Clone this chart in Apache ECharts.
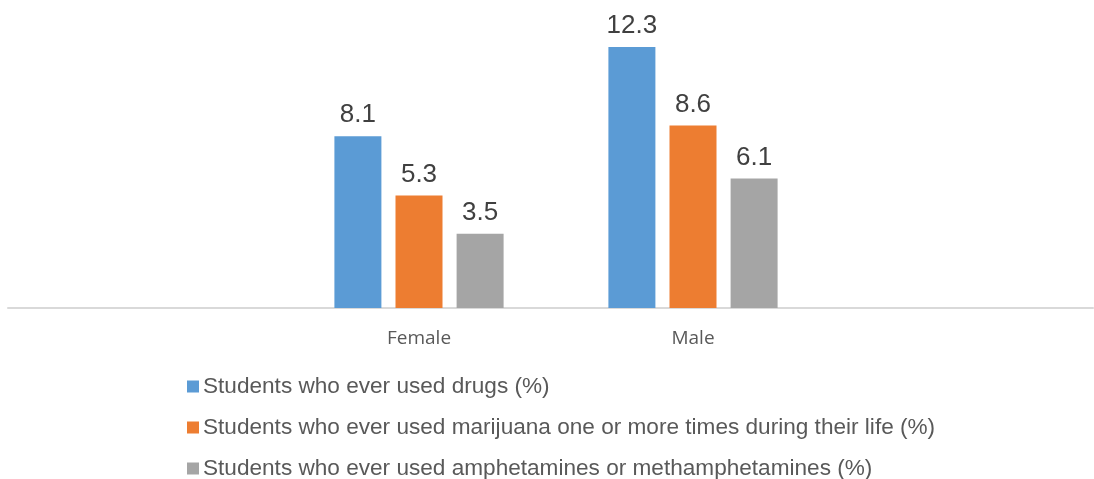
<!DOCTYPE html>
<html>
<head>
<meta charset="utf-8">
<script src="https://cdn.jsdelivr.net/npm/echarts@6/dist/echarts.min.js"></script>
<style>
  html, body { margin: 0; padding: 0; background: #fff; }
  #chart { width: 1094px; height: 479px; }
</style>
</head>
<body>
<div id="chart"></div>
<script>
const categories = ['Female', 'Male']
const seriesNames = [
  'Students who ever used drugs (%)',
  'Students who ever used marijuana one or more times during their life (%)',
  'Students who ever used amphetamines or methamphetamines (%)'
]
const everUsedDrugs = [8.1, 12.3]
const marijuana = [5.3, 8.6]
const amphetamines = [3.5, 6.1]
const colors = ['#5B9BD5', '#ED7D31', '#A5A5A5']

const chart = echarts.init(document.getElementById('chart'))

function barSeries(name, data, color) {
  return {
    name: name,
    type: 'bar',
    xAxisIndex: 1,
    yAxisIndex: 1,
    data: data,
    barWidth: 47,
    barGap: '30%',
    itemStyle: { color: color },
    label: {
      show: true,
      position: 'top',
      distance: 8,
      fontFamily: 'Liberation Sans',
      fontSize: 26,
      color: '#404040'
    }
  }
}

chart.setOption({
  animation: false,
  grid: [
    // full-width grid only for the baseline
    { left: 8, right: 1, top: 11, bottom: 171 },
    // bar grid
    { left: 282, right: 264, top: 11, bottom: 171 }
  ],
  legend: {
    orient: 'vertical',
    left: 187,
    top: 375,
    height: 200,
    padding: 0,
    itemWidth: 12,
    itemHeight: 12,
    itemGap: 18,
    icon: 'rect',
    textStyle: { fontFamily: 'Liberation Sans', fontSize: 22.6, color: '#595959', padding: [0, 0, 0, -1] },
    data: seriesNames
  },
  xAxis: [
    {
      gridIndex: 0, type: 'value', min: 0, max: 1,
      axisLine: { show: true, lineStyle: { color: '#D9D9D9', width: 2 } },
      axisTick: { show: false }, axisLabel: { show: false }, splitLine: { show: false }
    },
    {
      gridIndex: 1, type: 'category', data: categories,
      axisLine: { show: false },
      axisTick: { show: false },
      axisLabel: { fontFamily: 'Open Sans', fontSize: 19, color: '#595959', margin: 21 }
    }
  ],
  yAxis: [
    { gridIndex: 0, type: 'value', min: 0, max: 14, show: false },
    { gridIndex: 1, type: 'value', min: 0, max: 14, show: false }
  ],
  series: [
    barSeries(seriesNames[0], everUsedDrugs, colors[0]),
    barSeries(seriesNames[1], marijuana, colors[1]),
    barSeries(seriesNames[2], amphetamines, colors[2])
  ]
})
</script>
</body>
</html>
